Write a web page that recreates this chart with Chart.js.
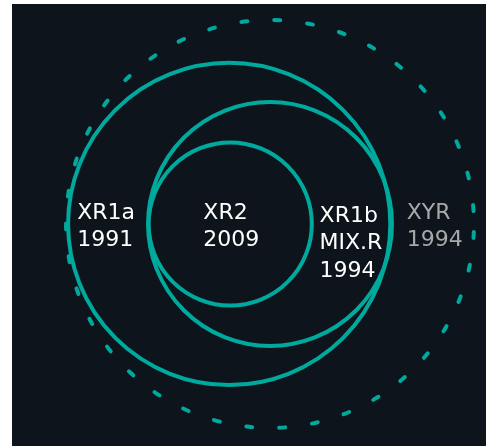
<!DOCTYPE html>
<html>
<head>
<meta charset="utf-8">
<script src="https://cdn.jsdelivr.net/npm/chart.js@4.4.0/dist/chart.umd.min.js"></script>
<style>
  html, body { margin: 0; padding: 0; background: #ffffff; }
  #wrap { position: absolute; left: 12px; top: 4px; width: 474px; height: 442px; background: #0d141b; }
</style>
</head>
<body>
<div id="wrap"><canvas id="venn"></canvas></div>
<script>
// circles: centre and radius in diagram units (outer dashed ring = 10)
const circleNames = ['XYR', 'XR1a', 'XR1b', 'XR2'];
const circleX = [0, -2.0, 0, -1.95];
const circleY = [0, 0, 0, 0];
const circleR = [10, 7.9, 5.98, 4.0];
const circleDashed = [true, false, false, false];

// text blocks: left edge x, vertical centre y
const labelLines = [['XR1a', '1991'], ['XR2', '2009'], ['XR1b', 'MIX.R', '1994'], ['XYR', '1994']];
const labelX = [-9.45, -3.27, 2.43, 6.7];
const labelY = [-0.13, -0.13, -0.95, -0.13];
const labelMuted = [false, false, false, true];

const teal = '#00a99d';

const datasets = circleNames.map((name, i) => ({
    label: name,
    data: [{ x: circleX[i], y: circleY[i], rad: circleR[i] }],
    dashed: circleDashed[i],
    pointStyle: 'circle',
    backgroundColor: 'rgba(0,0,0,0)',
    borderColor: teal,
    borderWidth: 4,
    pointRadius: ctx => {
        const s = ctx.chart.scales.x;
        return Math.abs(s.getPixelForValue(ctx.raw.rad) - s.getPixelForValue(0));
    }
}));

// dashed ring + text labels
const vennPlugin = {
    id: 'venn',
    beforeDatasetDraw(chart, args) {
        const ctx = chart.ctx;
        ctx.save();
        ctx.lineCap = 'round';
        if (chart.data.datasets[args.index].dashed) {
            ctx.setLineDash([6, 27]);
            ctx.lineDashOffset = 25;
        }
    },
    afterDatasetDraw(chart) {
        chart.ctx.restore();
    },
    afterDatasetsDraw(chart) {
        const ctx = chart.ctx;
        const xs = chart.scales.x, ys = chart.scales.y;
        ctx.save();
        ctx.font = '22px "DejaVu Sans"';
        ctx.textAlign = 'left';
        ctx.textBaseline = 'middle';
        const lh = 27.5;
        labelLines.forEach((lines, i) => {
            ctx.fillStyle = labelMuted[i] ? '#a8a8a8' : '#ffffff';
            const px = xs.getPixelForValue(labelX[i]);
            const py = ys.getPixelForValue(labelY[i]) - (lines.length - 1) * lh / 2;
            lines.forEach((t, j) => ctx.fillText(t, px, py + j * lh));
        });
        ctx.restore();
    }
};

new Chart(document.getElementById('venn'), {
    type: 'scatter',
    data: { datasets: datasets },
    options: {
        responsive: true,
        maintainAspectRatio: false,
        animation: false,
        events: [],
        layout: { padding: 0 },
        scales: {
            x: { type: 'linear', min: -12.65, max: 10.59, display: false },
            y: { type: 'linear', min: -10.88, max: 10.78, display: false }
        },
        plugins: {
            legend: { display: false },
            tooltip: { enabled: false }
        }
    },
    plugins: [vennPlugin]
});
</script>
</body>
</html>
